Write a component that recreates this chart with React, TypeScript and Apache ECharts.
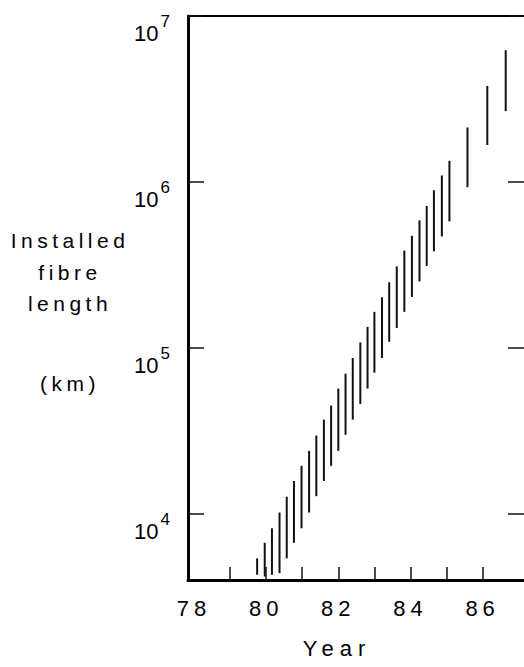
import React, { useEffect, useRef } from 'react';
import * as echarts from 'echarts';

// Year of each vertical range mark
const years = [79.75, 79.96, 80.16, 80.37, 80.57, 80.77, 80.98, 81.19, 81.39, 81.6, 81.8, 82.0, 82.2, 82.4, 82.61, 82.81, 83.0, 83.21, 83.41, 83.62, 83.83, 84.04, 84.25, 84.45, 84.65, 84.87, 85.08, 85.58, 86.13, 86.64];
// Lower end of each range (km)
const lows = [4300, 4200, 4300, 4400, 5400, 6700, 8200, 10200, 12800, 15800, 19500, 24000, 30000, 37000, 46000, 57000, 71000, 87000, 109000, 132000, 165000, 203000, 252000, 312000, 382000, 470000, 579000, 930000, 1670000, 2670000];
// Upper end of each range (km)
const highs = [5400, 6700, 8200, 10200, 12700, 15800, 19500, 24000, 29700, 37000, 45000, 57000, 70000, 87000, 108000, 134000, 165000, 202000, 249000, 310000, 386000, 474000, 587000, 717000, 892000, 1095000, 1342000, 2130000, 3790000, 6220000];

const xTickYears = [79, 80, 81, 82, 83, 84, 85, 86];
const xLabelYears = [78, 80, 82, 84, 86];
const yTickValues = [10000, 100000, 1000000, 10000000];
const yTitleLines = ['Installed', 'fibre', 'length', '(km)'];
const xTitle = 'Year';

const FONT = 'Liberation Sans, Arial, sans-serif';

export default function App() {
  const ref = useRef<HTMLDivElement>(null);
  useEffect(() => {
    const chart = echarts.init(ref.current!, null, { renderer: 'svg' });
    const data = years.map((y, i) => [y, lows[i], highs[i]]);
    const xMin = 77.833;
    const xMax = 87.147;
    const yTitleY = [240, 272, 303, 383];
    chart.setOption({
      animation: false,
      backgroundColor: '#fff',
      grid: { left: 188, right: -5, top: 16, bottom: 87 },
      xAxis: [
        {
          type: 'value', min: xMin, max: xMax, position: 'bottom',
          axisLine: { show: true, onZero: false, lineStyle: { color: '#000', width: 3 } },
          axisTick: { show: true, inside: true, length: 13, customValues: xTickYears, lineStyle: { color: '#111', width: 1.5 } },
          axisLabel: { customValues: xLabelYears, margin: 17, fontSize: 22, fontFamily: FONT, color: '#000' },
          splitLine: { show: false },
        },
        {
          type: 'value', min: xMin, max: xMax, position: 'top',
          axisLine: { show: true, onZero: false, lineStyle: { color: '#000', width: 2 } },
          axisTick: { show: false }, axisLabel: { show: false }, splitLine: { show: false },
        },
      ],
      yAxis: [
        {
          type: 'log', logBase: 10, min: 4000, max: 10000000, position: 'left',
          axisLine: { show: true, onZero: false, lineStyle: { color: '#000', width: 3 } },
          axisTick: { show: true, inside: true, length: 16, customValues: yTickValues, lineStyle: { color: '#111', width: 1.5 } },
          axisLabel: {
            customValues: yTickValues,
            margin: 18,
            verticalAlign: 'top',
            formatter: (v: number) => `{b|10}{s|${Math.round(Math.log10(v))}}`,
            rich: {
              b: { fontSize: 22, height: 22, lineHeight: 28.5, verticalAlign: 'bottom', fontFamily: FONT, color: '#000' },
              s: { fontSize: 17, height: 11, lineHeight: 11, padding: [0, 0, 0, 2], verticalAlign: 'top', fontFamily: FONT, color: '#000' },
            },
          },
          splitLine: { show: false },
        },
        {
          type: 'log', logBase: 10, min: 4000, max: 10000000, position: 'right',
          axisLine: { show: false },
          axisTick: { show: true, inside: true, length: 16, customValues: yTickValues, lineStyle: { color: '#111', width: 1.5 } },
          axisLabel: { show: false },
          splitLine: { show: false },
        },
      ],
      graphic: [
        ...yTitleLines.map((t, i) => ({
          type: 'text', x: 70, y: yTitleY[i],
          style: { text: t, fontSize: 21, fontFamily: FONT, fill: '#000', align: 'center', verticalAlign: 'middle' },
        })),
        {
          type: 'text', x: 337, y: 648,
          style: { text: xTitle, fontSize: 22, fontFamily: FONT, fill: '#000', align: 'center', verticalAlign: 'middle' },
        },
      ],
      series: [
        {
          type: 'custom',
          xAxisIndex: 0,
          yAxisIndex: 0,
          data,
          encode: { x: 0, y: [1, 2] },
          renderItem: (params: any, api: any) => {
            const p1 = api.coord([api.value(0), api.value(1)]);
            const p2 = api.coord([api.value(0), api.value(2)]);
            return {
              type: 'line',
              shape: { x1: p1[0], y1: p1[1], x2: p2[0], y2: p2[1] },
              style: { stroke: '#111', lineWidth: 2 },
            };
          },
        },
      ],
    });
    // Wide tracking like the original lettering
    const spacing: Record<string, string> = {};
    yTitleLines.forEach((t) => (spacing[t] = '4.5'));
    spacing[xTitle] = '6';
    xLabelYears.forEach((y) => (spacing[String(y)] = '5'));
    ref.current!.querySelectorAll('text').forEach((el) => {
      const s = spacing[el.textContent || ''];
      if (s) el.setAttribute('letter-spacing', s);
    });
    return () => chart.dispose();
  }, []);
  return (
    <div
      ref={ref}
      style={{ position: 'absolute', left: 0, top: 0, width: 524, height: 667 }}
    />
  );
}
